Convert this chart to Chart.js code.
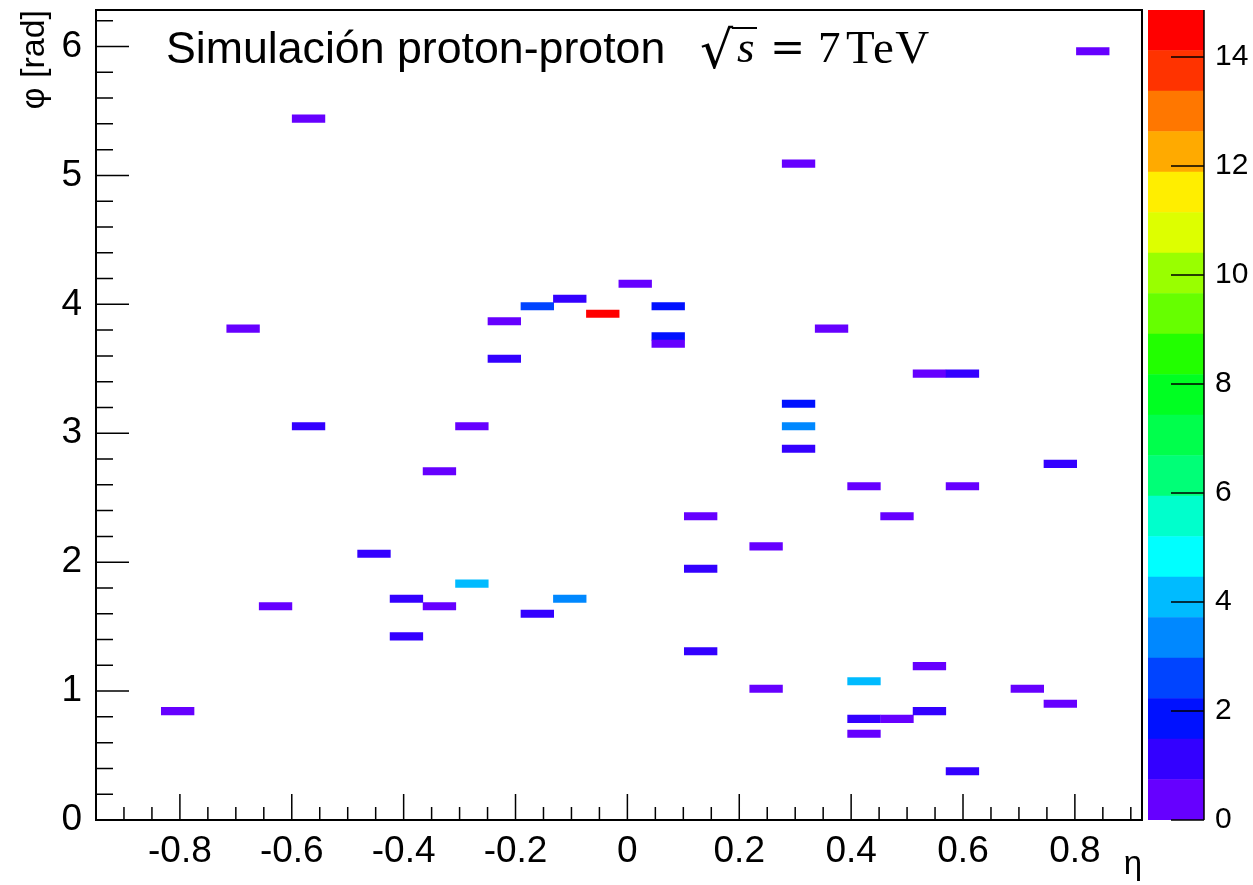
<!DOCTYPE html>
<html>
<head>
<meta charset="utf-8">
<title>Simulación proton-proton</title>
<script src="https://cdn.jsdelivr.net/npm/chart.js@4.4.0/dist/chart.umd.min.js"></script>
<style>
  html, body { margin: 0; padding: 0; background: #fff; }
  #wrap { position: relative; width: 1253px; height: 885px; overflow: hidden; }
  #main { position: absolute; left: 0; top: 0; }
  #zbar { position: absolute; left: 1140px; top: 0; }
  .lbl { position: absolute; white-space: nowrap; color: #000; line-height: 1; }
  #txt { left: 166px; top: 26px; font-size: 44.7px; font-family: 'Liberation Sans', Arial, sans-serif; }
  #rt { left: 700px; top: 24px; font-size: 52px; font-family: 'DejaVu Serif', serif; }
  #ss { left: 737px; top: 25px; font-size: 45px; font-style: italic; font-family: 'Liberation Serif', serif; }
  #bar { position: absolute; left: 732px; top: 27px; width: 25px; height: 2px; background: #000; }
  #eq { left: 770px; top: 27px; font-size: 42px; font-family: 'DejaVu Serif', serif; }
  #num { left: 818px; top: 25px; font-size: 45px; font-family: 'Liberation Serif', serif; }
  #tev { left: 846px; top: 24px; font-size: 47px; letter-spacing: 1.5px; font-family: 'Liberation Serif', serif; }
</style>
</head>
<body>
<div id="wrap">
  <canvas id="main" width="1253" height="885"></canvas>
  <canvas id="zbar" width="113" height="885"></canvas>
  <div id="txt" class="lbl">Simulación proton-proton</div>
  <div id="rt" class="lbl">√</div>
  <div id="bar"></div>
  <div id="ss" class="lbl">s</div>
  <div id="eq" class="lbl">=</div>
  <div id="num" class="lbl">7</div>
  <div id="tev" class="lbl">TeV</div>
</div>
<script>
// histogram binning
const etaMin = -0.95, etaMax = 0.92, etaBins = 32;
const phiMax = 2 * Math.PI, phiBins = 108;
const zMax = 14.86;

// filled bins: centre in eta, centre in phi, content
const etaCenters = [
  -0.804, -0.687, -0.629, -0.570, -0.570, -0.453, -0.395, -0.395, -0.336, -0.336,
  -0.278, -0.278, -0.220, -0.220, -0.161, -0.161, -0.103, -0.103, -0.044, 0.014,
  0.073, 0.073, 0.073, 0.131, 0.131, 0.131, 0.248, 0.248, 0.306, 0.306,
  0.306, 0.306, 0.365, 0.423, 0.423, 0.423, 0.423, 0.482, 0.482, 0.540,
  0.540, 0.540, 0.599, 0.599, 0.599, 0.715, 0.774, 0.774, 0.832
];
const phiCenters = [
  0.844, 3.811, 1.658, 5.440, 3.054, 2.065, 1.716, 1.425, 2.705, 1.658,
  3.054, 1.833, 3.869, 3.578, 3.985, 1.600, 4.043, 1.716, 3.927, 4.160,
  3.985, 3.752, 3.694, 2.356, 1.949, 1.309, 2.123, 1.018, 5.091, 3.229,
  3.054, 2.880, 3.811, 2.589, 1.076, 0.785, 0.669, 2.356, 0.785, 3.462,
  1.193, 0.844, 3.462, 2.589, 0.378, 1.018, 2.763, 0.902, 5.963
];
const binValues = [
  0.5, 0.5, 0.5, 0.5, 1.1, 1.1, 1.1, 1.1, 0.5, 0.5,
  0.5, 4.0, 0.5, 1.1, 2.5, 1.1, 1.1, 3.3, 14.86, 0.5,
  1.8, 1.8, 0.5, 0.5, 1.1, 1.1, 0.5, 0.5, 0.5, 1.8,
  3.3, 1.1, 0.5, 0.5, 4.0, 1.1, 0.5, 0.5, 0.5, 0.5,
  0.5, 1.1, 1.1, 0.5, 1.1, 0.5, 1.1, 0.5, 0.5
];

const etaTicks = [-0.8, -0.6, -0.4, -0.2, 0, 0.2, 0.4, 0.6, 0.8];
const phiTicks = [0, 1, 2, 3, 4, 5, 6];
const zTicks = [0, 2, 4, 6, 8, 10, 12, 14];

// ROOT "pretty" palette, 20 contours
const palette = [
  '#6600ff', '#3300ff', '#0011ff', '#0044ff', '#0088ff', '#00bbff', '#00ffff', '#00ffcc', '#00ff77', '#00ff4c',
  '#00ff22', '#22ff00', '#66ff00', '#99ff00', '#ddff00', '#ffee00', '#ffaa00', '#ff7700', '#ff3300', '#ff0000'
];

const FONT = "'Liberation Sans', Arial, Helvetica, sans-serif";
Chart.defaults.color = '#000';
Chart.defaults.font.family = FONT;

const etaStep = (etaMax - etaMin) / etaBins;
const colorOf = v => palette[Math.min(palette.length - 1, Math.floor(v / zMax * palette.length))];
const noEdgePad = s => { s.paddingTop = 0; s.paddingBottom = 0; s.paddingLeft = 0; s.paddingRight = 0; };

// ticks drawn inside the frame, ROOT style
const rootFrame = {
  id: 'rootFrame',
  afterDatasetsDraw(chart) {
    const { ctx, chartArea: a, scales: { x, y } } = chart;
    ctx.save();
    ctx.strokeStyle = '#000';
    ctx.lineWidth = 1.5;
    ctx.beginPath();
    for (let i = Math.ceil(x.min / 0.05 - 1e-6); i * 0.05 <= x.max + 1e-9; i++) {
      const px = x.getPixelForValue(i * 0.05);
      ctx.moveTo(px, a.bottom);
      ctx.lineTo(px, a.bottom - (i % 4 === 0 ? 26 : 13));
    }
    for (let i = 0; i * 0.2 <= y.max + 1e-9; i++) {
      const py = y.getPixelForValue(i * 0.2);
      ctx.moveTo(a.left, py);
      ctx.lineTo(a.left + (i % 5 === 0 ? 33 : 17), py);
    }
    ctx.stroke();
    ctx.lineWidth = 2;
    ctx.strokeRect(a.left, a.top, a.right - a.left, a.bottom - a.top);
    ctx.restore();
  }
};

const zAxisLine = {
  id: 'zAxisLine',
  afterDatasetsDraw(chart) {
    const { ctx, chartArea: a, scales: { y } } = chart;
    ctx.save();
    ctx.strokeStyle = '#000';
    ctx.lineWidth = 1.5;
    ctx.beginPath();
    ctx.moveTo(a.right, a.top);
    ctx.lineTo(a.right, a.bottom);
    zTicks.forEach(v => {
      const py = y.getPixelForValue(v);
      ctx.moveTo(a.right, py);
      ctx.lineTo(a.right - 33, py);
    });
    ctx.stroke();
    ctx.restore();
  }
};

new Chart(document.getElementById('main'), {
  type: 'bar',
  data: {
    datasets: [{
      data: etaCenters.map((e, i) => ({ x: [e - etaStep / 2, e + etaStep / 2], y: phiCenters[i] })),
      backgroundColor: binValues.map(colorOf),
      borderWidth: 0,
      barThickness: 810 / phiBins
    }]
  },
  options: {
    indexAxis: 'y',
    responsive: false,
    animation: false,
    events: [],
    layout: { padding: { left: 0, top: 10, right: 111, bottom: 0 } },
    plugins: { legend: { display: false }, tooltip: { enabled: false } },
    scales: {
      x: {
        type: 'linear', position: 'bottom', min: etaMin, max: etaMax,
        grid: { display: false }, border: { display: false },
        afterBuildTicks: s => { s.ticks = etaTicks.map(v => ({ value: v })); },
        afterFit: s => { s.height = 65; noEdgePad(s); },
        ticks: { font: { size: 37 }, padding: 2, maxRotation: 0, minRotation: 0, autoSkip: false, callback: v => String(v) },
        title: { display: true, text: 'η', align: 'end', font: { size: 33 }, padding: { top: 0, bottom: 0 } }
      },
      y: {
        type: 'linear', position: 'left', min: 0, max: phiMax, offset: false,
        grid: { display: false, offset: false }, border: { display: false },
        afterBuildTicks: s => { s.ticks = phiTicks.map(v => ({ value: v })); },
        afterFit: s => { s.width = 96; noEdgePad(s); },
        ticks: { font: { size: 37 }, padding: 6, autoSkip: false, callback: v => String(v) },
        title: { display: true, text: 'φ [rad]', align: 'end', font: { size: 34 }, padding: { top: 14, bottom: 0 } }
      }
    }
  },
  plugins: [rootFrame]
});

new Chart(document.getElementById('zbar'), {
  type: 'bar',
  data: {
    labels: [''],
    datasets: palette.map(c => ({ data: [zMax / palette.length], backgroundColor: c, borderWidth: 0, barPercentage: 1, categoryPercentage: 1 }))
  },
  options: {
    responsive: false,
    animation: false,
    events: [],
    layout: { padding: { left: 8, top: 10, right: 0, bottom: 65 } },
    plugins: { legend: { display: false }, tooltip: { enabled: false } },
    scales: {
      x: { display: false, stacked: true },
      y: {
        stacked: true, position: 'right', min: 0, max: zMax,
        grid: { display: false }, border: { display: false },
        afterBuildTicks: s => { s.ticks = zTicks.map(v => ({ value: v })); },
        afterFit: s => { s.width = 49; noEdgePad(s); },
        ticks: { font: { size: 30 }, padding: 3, autoSkip: false, callback: v => String(v) }
      }
    }
  },
  plugins: [zAxisLine]
});
</script>
</body>
</html>
